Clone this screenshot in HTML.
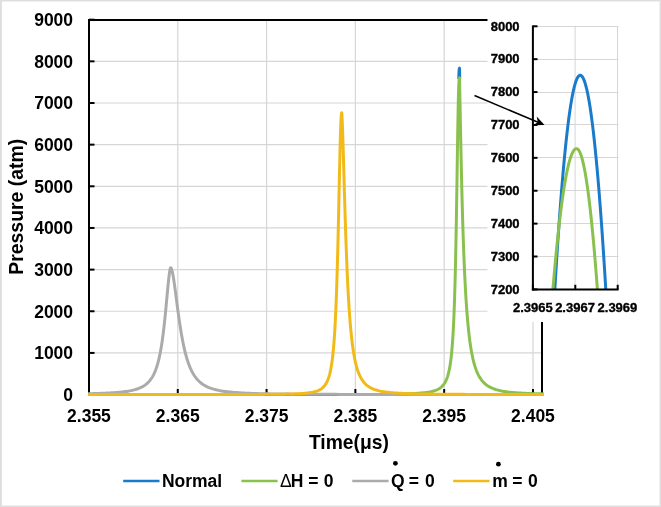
<!DOCTYPE html><html><head><meta charset="utf-8"><title>Pressure vs Time</title><style>html,body{margin:0;padding:0;background:#fff;overflow:hidden;}svg{display:block;will-change:transform;}text{font-family:"Liberation Sans",sans-serif;font-weight:bold;fill:#000;}.r{font-weight:normal;}</style></head><body>
<svg width="661" height="507" viewBox="0 0 661 507">
<rect x="0" y="0" width="661" height="507" fill="#fff"/>
<rect x="0.5" y="0.5" width="660" height="506" fill="none" stroke="#dedede" stroke-width="1"/>
<rect x="1.5" y="1.5" width="658" height="504" fill="none" stroke="#f0f0f0" stroke-width="1"/>
<rect x="1" y="1" width="1" height="505" fill="#e3e3e3"/>
<line x1="90" y1="352.92" x2="541" y2="352.92" stroke="#d6d6d6" stroke-width="1.2"/>
<line x1="90" y1="311.26" x2="541" y2="311.26" stroke="#d6d6d6" stroke-width="1.2"/>
<line x1="90" y1="269.61" x2="541" y2="269.61" stroke="#d6d6d6" stroke-width="1.2"/>
<line x1="90" y1="227.95" x2="541" y2="227.95" stroke="#d6d6d6" stroke-width="1.2"/>
<line x1="90" y1="186.30" x2="541" y2="186.30" stroke="#d6d6d6" stroke-width="1.2"/>
<line x1="90" y1="144.65" x2="541" y2="144.65" stroke="#d6d6d6" stroke-width="1.2"/>
<line x1="90" y1="102.99" x2="541" y2="102.99" stroke="#d6d6d6" stroke-width="1.2"/>
<line x1="90" y1="61.34" x2="541" y2="61.34" stroke="#d6d6d6" stroke-width="1.2"/>
<line x1="177.77" y1="21" x2="177.77" y2="394" stroke="#d6d6d6" stroke-width="1.2"/>
<line x1="266.57" y1="21" x2="266.57" y2="394" stroke="#d6d6d6" stroke-width="1.2"/>
<line x1="355.37" y1="21" x2="355.37" y2="394" stroke="#d6d6d6" stroke-width="1.2"/>
<line x1="444.17" y1="21" x2="444.17" y2="394" stroke="#d6d6d6" stroke-width="1.2"/>
<line x1="532.97" y1="21" x2="532.97" y2="394" stroke="#d6d6d6" stroke-width="1.2"/>
<rect x="89" y="20" width="453" height="374.6" fill="none" stroke="#000" stroke-width="2"/>
<line x1="89" y1="394.57" x2="94.5" y2="394.57" stroke="#000" stroke-width="2"/>
<line x1="89" y1="352.92" x2="94.5" y2="352.92" stroke="#000" stroke-width="2"/>
<line x1="89" y1="311.26" x2="94.5" y2="311.26" stroke="#000" stroke-width="2"/>
<line x1="89" y1="269.61" x2="94.5" y2="269.61" stroke="#000" stroke-width="2"/>
<line x1="89" y1="227.95" x2="94.5" y2="227.95" stroke="#000" stroke-width="2"/>
<line x1="89" y1="186.30" x2="94.5" y2="186.30" stroke="#000" stroke-width="2"/>
<line x1="89" y1="144.65" x2="94.5" y2="144.65" stroke="#000" stroke-width="2"/>
<line x1="89" y1="102.99" x2="94.5" y2="102.99" stroke="#000" stroke-width="2"/>
<line x1="89" y1="61.34" x2="94.5" y2="61.34" stroke="#000" stroke-width="2"/>
<line x1="89" y1="19.68" x2="94.5" y2="19.68" stroke="#000" stroke-width="2"/>
<line x1="88.97" y1="394.6" x2="88.97" y2="389" stroke="#000" stroke-width="2"/>
<line x1="177.77" y1="394.6" x2="177.77" y2="389" stroke="#000" stroke-width="2"/>
<line x1="266.57" y1="394.6" x2="266.57" y2="389" stroke="#000" stroke-width="2"/>
<line x1="355.37" y1="394.6" x2="355.37" y2="389" stroke="#000" stroke-width="2"/>
<line x1="444.17" y1="394.6" x2="444.17" y2="389" stroke="#000" stroke-width="2"/>
<line x1="532.97" y1="394.6" x2="532.97" y2="389" stroke="#000" stroke-width="2"/>
<defs><clipPath id="pc"><rect x="87.5" y="19" width="456.5" height="380"/></clipPath></defs>
<g clip-path="url(#pc)">
<defs><clipPath id="bc"><rect x="440" y="19" width="40" height="60"/></clipPath><clipPath id="gc"><rect x="400" y="19" width="144" height="380"/></clipPath></defs>
<path clip-path="url(#bc)" d="M88.00,394.56 L92.00,394.56 L96.00,394.56 L100.00,394.56 L104.00,394.56 L108.00,394.56 L112.00,394.56 L116.00,394.56 L120.00,394.56 L124.00,394.56 L128.00,394.55 L132.00,394.55 L136.00,394.55 L140.00,394.55 L144.00,394.55 L148.00,394.55 L152.00,394.55 L156.00,394.55 L160.00,394.55 L164.00,394.55 L168.00,394.55 L172.00,394.55 L176.00,394.55 L180.00,394.55 L184.00,394.55 L188.00,394.55 L192.00,394.55 L196.00,394.55 L200.00,394.54 L204.00,394.54 L208.00,394.54 L212.00,394.54 L216.00,394.54 L220.00,394.54 L224.00,394.54 L228.00,394.54 L232.00,394.54 L236.00,394.53 L240.00,394.53 L244.00,394.53 L248.00,394.53 L252.00,394.53 L256.00,394.53 L260.00,394.53 L264.00,394.52 L268.00,394.52 L272.00,394.52 L276.00,394.52 L280.00,394.51 L284.00,394.51 L288.00,394.51 L292.00,394.50 L296.00,394.50 L300.00,394.50 L304.00,394.49 L308.00,394.49 L312.00,394.48 L316.00,394.48 L320.00,394.47 L324.00,394.47 L328.00,394.46 L332.00,394.45 L336.00,394.44 L340.00,394.44 L344.00,394.43 L348.00,394.41 L352.00,394.40 L356.00,394.39 L360.00,394.37 L364.00,394.35 L368.00,394.33 L372.00,394.31 L376.00,394.28 L380.00,394.25 L381.50,394.23 L383.00,394.22 L384.50,394.21 L386.00,394.19 L387.50,394.17 L389.00,394.15 L390.50,394.13 L392.00,394.11 L393.50,394.09 L395.00,394.07 L396.50,394.04 L398.00,394.01 L399.50,393.98 L401.00,393.95 L402.50,393.91 L404.00,393.87 L405.50,393.83 L407.00,393.79 L408.50,393.74 L410.00,393.68 L411.50,393.62 L413.00,393.55 L414.50,393.48 L416.00,393.40 L417.50,393.31 L419.00,393.20 L420.50,393.09 L422.00,392.96 L423.50,392.81 L425.00,392.65 L426.50,392.45 L428.00,392.23 L429.50,391.98 L431.00,391.68 L431.50,391.56 L432.00,391.45 L432.50,391.32 L433.00,391.19 L433.50,391.05 L434.00,390.90 L434.50,390.74 L435.00,390.57 L435.50,390.40 L436.00,390.20 L436.50,390.00 L437.00,389.78 L437.50,389.55 L438.00,389.30 L438.50,389.03 L439.00,388.73 L439.50,388.42 L440.00,388.08 L440.50,387.71 L441.00,387.32 L441.50,386.88 L442.00,386.41 L442.50,385.90 L443.00,385.34 L443.50,384.72 L444.00,384.04 L444.50,383.29 L445.00,382.46 L445.50,381.54 L446.00,380.51 L446.50,379.36 L447.00,378.08 L447.50,376.62 L448.00,374.98 L448.20,374.26 L448.40,373.51 L448.60,372.71 L448.80,371.87 L449.00,370.98 L449.20,370.04 L449.40,369.05 L449.60,368.00 L449.80,366.88 L450.00,365.70 L450.20,364.45 L450.40,363.11 L450.60,361.70 L450.80,360.19 L451.00,358.58 L451.20,356.86 L451.40,355.02 L451.60,353.06 L451.80,350.96 L452.00,348.71 L452.20,346.30 L452.40,343.70 L452.60,340.92 L452.80,337.92 L453.00,334.69 L453.20,331.20 L453.40,327.44 L453.60,323.37 L453.80,318.98 L454.00,314.22 L454.20,309.08 L454.40,303.51 L454.60,297.47 L454.80,290.94 L455.00,283.86 L455.20,276.22 L455.40,267.96 L455.60,259.05 L455.80,249.48 L456.00,239.23 L456.20,228.28 L456.40,216.67 L456.60,204.43 L456.80,191.62 L457.00,178.37 L457.20,164.82 L457.40,151.18 L457.60,137.69 L457.80,124.63 L458.00,112.33 L458.20,101.10 L458.40,91.25 L458.60,83.04 L458.80,76.64 L459.00,72.12 L459.20,69.42 L459.40,68.31 L459.50,68.21 L459.60,72.27 L459.80,82.43 L460.00,93.47 L460.20,104.83 L460.40,116.23 L460.60,127.50 L460.80,138.50 L461.00,149.13 L461.20,159.33 L461.40,169.06 L461.60,178.30 L461.80,187.06 L462.00,195.35 L462.20,203.21 L462.40,210.66 L462.60,217.73 L462.80,224.45 L463.00,230.84 L463.20,236.94 L463.40,242.75 L463.60,248.29 L463.80,253.59 L464.00,258.64 L464.20,263.48 L464.40,268.10 L464.60,272.52 L464.80,276.74 L465.00,280.79 L465.20,284.66 L465.40,288.36 L465.60,291.91 L465.80,295.30 L466.00,298.56 L466.20,301.68 L466.40,304.67 L466.60,307.53 L466.80,310.28 L467.00,312.92 L467.20,315.45 L467.40,317.89 L467.60,320.22 L467.80,322.47 L468.00,324.62 L468.20,326.70 L468.40,328.69 L468.60,330.61 L468.80,332.45 L469.00,334.23 L469.20,335.94 L469.40,337.58 L469.60,339.17 L469.80,340.70 L470.00,342.17 L470.20,343.60 L470.40,344.97 L470.60,346.29 L470.80,347.56 L471.00,348.80 L471.20,349.99 L471.40,351.14 L471.60,352.25 L472.10,354.86 L472.60,357.27 L473.10,359.48 L473.60,361.53 L474.10,363.42 L474.60,365.16 L475.10,366.78 L475.60,368.28 L476.10,369.68 L476.60,370.98 L477.10,372.19 L477.60,373.31 L478.10,374.37 L478.60,375.35 L479.10,376.27 L479.60,377.13 L480.10,377.94 L480.60,378.70 L481.10,379.42 L481.60,380.09 L482.10,380.72 L482.60,381.31 L483.10,381.87 L483.60,382.40 L484.10,382.90 L484.60,383.38 L485.10,383.82 L485.60,384.25 L486.10,384.65 L486.60,385.03 L487.10,385.39 L487.60,385.73 L488.10,386.06 L488.60,386.37 L489.10,386.66 L489.60,386.94 L491.10,387.71 L492.60,388.37 L494.10,388.95 L495.60,389.46 L497.10,389.91 L498.60,390.31 L500.10,390.66 L501.60,390.98 L503.10,391.26 L504.60,391.51 L506.10,391.73 L507.60,391.94 L509.10,392.12 L510.60,392.29 L512.10,392.44 L513.60,392.58 L515.10,392.71 L516.60,392.83 L518.10,392.93 L519.60,393.03 L521.10,393.12 L522.60,393.20 L524.10,393.28 L525.60,393.35 L527.10,393.42 L528.60,393.48 L530.10,393.53 L531.60,393.59 L533.10,393.64 L534.60,393.68 L536.10,393.73 L537.60,393.77 L539.10,393.80 L540.60,393.84 L544.00,393.91" fill="none" stroke="#1A7BCB" stroke-width="3" stroke-linejoin="round" stroke-linecap="butt"/>
<path clip-path="url(#gc)" d="M88.00,394.56 L92.00,394.56 L96.00,394.56 L100.00,394.56 L104.00,394.56 L108.00,394.56 L112.00,394.56 L116.00,394.56 L120.00,394.56 L124.00,394.56 L128.00,394.55 L132.00,394.55 L136.00,394.55 L140.00,394.55 L144.00,394.55 L148.00,394.55 L152.00,394.55 L156.00,394.55 L160.00,394.55 L164.00,394.55 L168.00,394.55 L172.00,394.55 L176.00,394.55 L180.00,394.55 L184.00,394.55 L188.00,394.55 L192.00,394.55 L196.00,394.55 L200.00,394.54 L204.00,394.54 L208.00,394.54 L212.00,394.54 L216.00,394.54 L220.00,394.54 L224.00,394.54 L228.00,394.54 L232.00,394.54 L236.00,394.53 L240.00,394.53 L244.00,394.53 L248.00,394.53 L252.00,394.53 L256.00,394.53 L260.00,394.53 L264.00,394.52 L268.00,394.52 L272.00,394.52 L276.00,394.52 L280.00,394.51 L284.00,394.51 L288.00,394.51 L292.00,394.50 L296.00,394.50 L300.00,394.50 L304.00,394.49 L308.00,394.49 L312.00,394.48 L316.00,394.48 L320.00,394.47 L324.00,394.47 L328.00,394.46 L332.00,394.45 L336.00,394.44 L340.00,394.44 L344.00,394.43 L348.00,394.41 L352.00,394.40 L356.00,394.39 L360.00,394.37 L364.00,394.35 L368.00,394.33 L372.00,394.31 L376.00,394.28 L380.00,394.25 L381.50,394.23 L383.00,394.22 L384.50,394.21 L386.00,394.19 L387.50,394.17 L389.00,394.15 L390.50,394.13 L392.00,394.11 L393.50,394.09 L395.00,394.07 L396.50,394.04 L398.00,394.01 L399.50,393.98 L401.00,393.95 L402.50,393.91 L404.00,393.87 L405.50,393.83 L407.00,393.79 L408.50,393.74 L410.00,393.68 L411.50,393.62 L413.00,393.55 L414.50,393.48 L416.00,393.40 L417.50,393.31 L419.00,393.20 L420.50,393.09 L422.00,392.96 L423.50,392.81 L425.00,392.65 L426.50,392.45 L428.00,392.23 L429.50,391.98 L431.00,391.68 L431.50,391.56 L432.00,391.45 L432.50,391.32 L433.00,391.19 L433.50,391.05 L434.00,390.90 L434.50,390.74 L435.00,390.57 L435.50,390.40 L436.00,390.20 L436.50,390.00 L437.00,389.78 L437.50,389.55 L438.00,389.30 L438.50,389.03 L439.00,388.73 L439.50,388.42 L440.00,388.08 L440.50,387.71 L441.00,387.32 L441.50,386.88 L442.00,386.41 L442.50,385.90 L443.00,385.34 L443.50,384.72 L444.00,384.04 L444.50,383.29 L445.00,382.46 L445.50,381.54 L446.00,380.51 L446.50,379.36 L447.00,378.08 L447.50,376.62 L448.00,374.98 L448.20,374.26 L448.40,373.51 L448.60,372.71 L448.80,371.87 L449.00,370.98 L449.20,370.04 L449.40,369.05 L449.60,368.00 L449.80,366.88 L450.00,365.70 L450.20,364.45 L450.40,363.11 L450.60,361.70 L450.80,360.19 L451.00,358.58 L451.20,356.86 L451.40,355.02 L451.60,353.06 L451.80,350.96 L452.00,348.71 L452.20,346.30 L452.40,343.70 L452.60,340.92 L452.80,337.92 L453.00,334.69 L453.20,331.20 L453.40,327.44 L453.60,323.37 L453.80,318.98 L454.00,314.22 L454.20,309.08 L454.40,303.51 L454.60,297.47 L454.80,290.94 L455.00,283.87 L455.20,276.22 L455.40,267.97 L455.60,259.08 L455.80,249.53 L456.00,239.31 L456.20,228.42 L456.40,216.89 L456.60,204.78 L456.80,192.18 L457.00,179.21 L457.20,166.04 L457.40,152.89 L457.60,140.02 L457.80,127.73 L458.00,116.30 L458.20,106.05 L458.40,97.23 L458.60,90.02 L458.80,84.55 L459.00,80.81 L459.20,78.67 L459.40,77.85 L459.50,77.79 L459.60,81.81 L459.80,91.68 L460.00,102.16 L460.20,112.74 L460.40,123.21 L460.60,133.47 L460.80,143.45 L461.00,153.11 L461.20,162.43 L461.40,171.39 L461.60,180.01 L461.80,188.27 L462.00,196.19 L462.20,203.77 L462.40,211.02 L462.60,217.95 L462.80,224.59 L463.00,230.92 L463.20,236.98 L463.40,242.77 L463.60,248.30 L463.80,253.59 L464.00,258.65 L464.20,263.48 L464.40,268.10 L464.60,272.52 L464.80,276.74 L465.00,280.79 L465.20,284.66 L465.40,288.36 L465.60,291.91 L465.80,295.30 L466.00,298.56 L466.20,301.68 L466.40,304.67 L466.60,307.53 L466.80,310.28 L467.00,312.92 L467.20,315.45 L467.40,317.89 L467.60,320.22 L467.80,322.47 L468.00,324.62 L468.20,326.70 L468.40,328.69 L468.60,330.61 L468.80,332.45 L469.00,334.23 L469.20,335.94 L469.40,337.58 L469.60,339.17 L469.80,340.70 L470.00,342.17 L470.20,343.60 L470.40,344.97 L470.60,346.29 L470.80,347.56 L471.00,348.80 L471.20,349.99 L471.40,351.14 L471.60,352.25 L472.10,354.86 L472.60,357.27 L473.10,359.48 L473.60,361.53 L474.10,363.42 L474.60,365.16 L475.10,366.78 L475.60,368.28 L476.10,369.68 L476.60,370.98 L477.10,372.19 L477.60,373.31 L478.10,374.37 L478.60,375.35 L479.10,376.27 L479.60,377.13 L480.10,377.94 L480.60,378.70 L481.10,379.42 L481.60,380.09 L482.10,380.72 L482.60,381.31 L483.10,381.87 L483.60,382.40 L484.10,382.90 L484.60,383.38 L485.10,383.82 L485.60,384.25 L486.10,384.65 L486.60,385.03 L487.10,385.39 L487.60,385.73 L488.10,386.06 L488.60,386.37 L489.10,386.66 L489.60,386.94 L491.10,387.71 L492.60,388.37 L494.10,388.95 L495.60,389.46 L497.10,389.91 L498.60,390.31 L500.10,390.66 L501.60,390.98 L503.10,391.26 L504.60,391.51 L506.10,391.73 L507.60,391.94 L509.10,392.12 L510.60,392.29 L512.10,392.44 L513.60,392.58 L515.10,392.71 L516.60,392.83 L518.10,392.93 L519.60,393.03 L521.10,393.12 L522.60,393.20 L524.10,393.28 L525.60,393.35 L527.10,393.42 L528.60,393.48 L530.10,393.53 L531.60,393.59 L533.10,393.64 L534.60,393.68 L536.10,393.73 L537.60,393.77 L539.10,393.80 L540.60,393.84 L544.00,393.91" fill="none" stroke="#8AC14E" stroke-width="3" stroke-linejoin="round" stroke-linecap="butt"/>
<path d="M88.00,393.73 L92.00,393.64 L93.50,393.60 L95.00,393.56 L96.50,393.51 L98.00,393.46 L99.50,393.41 L101.00,393.36 L102.50,393.30 L104.00,393.24 L105.50,393.17 L107.00,393.10 L108.50,393.02 L110.00,392.94 L111.50,392.85 L113.00,392.76 L114.50,392.65 L116.00,392.54 L117.50,392.42 L119.00,392.28 L120.50,392.13 L122.00,391.97 L123.50,391.80 L125.00,391.60 L126.50,391.39 L128.00,391.15 L129.50,390.89 L131.00,390.60 L132.50,390.27 L134.00,389.90 L135.50,389.48 L137.00,389.01 L138.50,388.48 L140.00,387.87 L141.50,387.17 L142.00,386.92 L142.50,386.65 L143.00,386.36 L143.50,386.07 L144.00,385.76 L144.50,385.43 L145.00,385.08 L145.50,384.72 L146.00,384.33 L146.50,383.92 L147.00,383.50 L147.50,383.04 L148.00,382.56 L148.50,382.05 L149.00,381.51 L149.50,380.94 L150.00,380.34 L150.50,379.69 L151.00,379.00 L151.50,378.27 L152.00,377.50 L152.50,376.67 L153.00,375.78 L153.50,374.84 L154.00,373.82 L154.50,372.74 L155.00,371.58 L155.50,370.34 L156.00,369.00 L156.50,367.57 L157.00,366.03 L157.50,364.37 L158.00,362.58 L158.50,360.66 L159.00,358.59 L159.20,357.71 L159.40,356.81 L159.60,355.89 L159.80,354.93 L160.00,353.94 L160.20,352.93 L160.40,351.88 L160.60,350.81 L160.80,349.69 L161.00,348.55 L161.20,347.37 L161.40,346.16 L161.60,344.91 L161.80,343.62 L162.00,342.29 L162.20,340.93 L162.40,339.53 L162.60,338.08 L162.80,336.60 L163.00,335.07 L163.20,333.50 L163.40,331.89 L163.60,330.24 L163.80,328.55 L164.00,326.81 L164.20,325.03 L164.40,323.21 L164.60,321.35 L164.80,319.45 L165.00,317.51 L165.20,315.53 L165.40,313.51 L165.60,311.47 L165.80,309.39 L166.00,307.29 L166.20,305.16 L166.40,303.01 L166.60,300.85 L166.80,298.68 L167.00,296.50 L167.20,294.33 L167.40,292.17 L167.60,290.02 L167.80,287.91 L168.00,285.83 L168.20,283.79 L168.40,281.81 L168.60,279.90 L168.80,278.07 L169.00,276.34 L169.20,274.71 L169.40,273.21 L169.60,271.84 L169.80,270.63 L170.00,269.59 L170.20,268.75 L170.40,268.12 L170.60,267.75 L170.70,267.69 L170.80,267.72 L171.00,267.91 L171.20,268.22 L171.40,268.65 L171.60,269.18 L171.80,269.81 L172.00,270.53 L172.20,271.33 L172.40,272.20 L172.60,273.15 L172.80,274.17 L173.00,275.25 L173.20,276.39 L173.40,277.57 L173.60,278.81 L173.80,280.09 L174.00,281.41 L174.20,282.77 L174.40,284.16 L174.60,285.58 L174.80,287.03 L175.00,288.49 L175.20,289.98 L175.40,291.48 L175.60,292.99 L175.80,294.51 L176.00,296.04 L176.20,297.57 L176.40,299.11 L176.60,300.65 L176.80,302.18 L177.00,303.71 L177.20,305.23 L177.40,306.75 L177.60,308.26 L177.80,309.76 L178.00,311.24 L178.20,312.71 L178.40,314.17 L178.60,315.62 L178.80,317.04 L179.00,318.45 L179.20,319.85 L179.40,321.22 L179.60,322.58 L179.80,323.92 L180.00,325.23 L180.20,326.53 L180.40,327.81 L180.60,329.07 L180.80,330.30 L181.00,331.52 L181.20,332.71 L181.40,333.89 L181.60,335.04 L181.80,336.18 L182.00,337.29 L182.20,338.38 L182.40,339.45 L182.60,340.50 L182.80,341.53 L183.30,344.02 L183.80,346.38 L184.30,348.63 L184.80,350.76 L185.30,352.78 L185.80,354.70 L186.30,356.52 L186.80,358.24 L187.30,359.88 L187.80,361.42 L188.30,362.89 L188.80,364.28 L189.30,365.59 L189.80,366.84 L190.30,368.02 L190.80,369.14 L191.30,370.20 L191.80,371.21 L192.30,372.16 L192.80,373.07 L193.30,373.93 L193.80,374.75 L194.30,375.52 L194.80,376.26 L195.30,376.96 L195.80,377.63 L196.30,378.27 L196.80,378.87 L197.30,379.45 L197.80,380.00 L198.30,380.52 L198.80,381.02 L199.30,381.50 L199.80,381.95 L200.30,382.38 L200.80,382.80 L202.30,383.94 L203.80,384.93 L205.30,385.81 L206.80,386.58 L208.30,387.27 L209.80,387.87 L211.30,388.42 L212.80,388.90 L214.30,389.33 L215.80,389.73 L217.30,390.08 L218.80,390.40 L220.30,390.68 L221.80,390.95 L223.30,391.18 L224.80,391.40 L226.30,391.60 L227.80,391.78 L229.30,391.95 L230.80,392.10 L232.30,392.25 L233.80,392.38 L235.30,392.50 L236.80,392.61 L238.30,392.71 L239.80,392.81 L241.30,392.90 L242.80,392.98 L244.30,393.06 L245.80,393.13 L247.30,393.20 L248.80,393.27 L250.30,393.33 L251.80,393.38 L255.80,393.52 L259.80,393.63 L263.80,393.73 L267.80,393.81 L271.80,393.88 L275.80,393.95 L279.80,394.00 L283.80,394.05 L287.80,394.09 L291.80,394.13 L295.80,394.17 L299.80,394.20 L303.80,394.23 L307.80,394.25 L311.80,394.27 L315.80,394.29 L319.80,394.31 L323.80,394.33 L327.80,394.34 L331.80,394.36 L335.80,394.37 L339.80,394.38 L343.80,394.39 L347.80,394.40 L351.80,394.41 L355.80,394.42 L359.80,394.43 L363.80,394.44 L367.80,394.44 L371.80,394.45 L375.80,394.46 L379.80,394.46 L383.80,394.47 L387.80,394.47 L391.80,394.48 L395.80,394.48 L399.80,394.48 L403.80,394.49 L407.80,394.49 L411.80,394.49 L415.80,394.50 L419.80,394.50 L423.80,394.50 L427.80,394.51 L431.80,394.51 L435.80,394.51 L439.80,394.51 L443.80,394.51 L447.80,394.52 L451.80,394.52 L455.80,394.52 L459.80,394.52 L463.80,394.52 L467.80,394.53 L471.80,394.53 L475.80,394.53 L479.80,394.53 L483.80,394.53 L487.80,394.53 L491.80,394.53 L495.80,394.53 L499.80,394.54 L503.80,394.54 L507.80,394.54 L511.80,394.54 L515.80,394.54 L519.80,394.54 L523.80,394.54 L527.80,394.54 L531.80,394.54 L535.80,394.54 L539.80,394.54 L543.80,394.55 L544.00,394.55" fill="none" stroke="#ABABAB" stroke-width="3" stroke-linejoin="round" stroke-linecap="butt"/>
<path d="M88.00,394.56 L92.00,394.56 L96.00,394.56 L100.00,394.56 L104.00,394.56 L108.00,394.56 L112.00,394.56 L116.00,394.56 L120.00,394.56 L124.00,394.56 L128.00,394.56 L132.00,394.56 L136.00,394.56 L140.00,394.55 L144.00,394.55 L148.00,394.55 L152.00,394.55 L156.00,394.55 L160.00,394.55 L164.00,394.55 L168.00,394.55 L172.00,394.55 L176.00,394.54 L180.00,394.54 L184.00,394.54 L188.00,394.54 L192.00,394.54 L196.00,394.53 L200.00,394.53 L204.00,394.53 L208.00,394.52 L212.00,394.52 L216.00,394.52 L220.00,394.51 L224.00,394.51 L228.00,394.50 L232.00,394.49 L236.00,394.49 L240.00,394.48 L244.00,394.47 L248.00,394.46 L252.00,394.44 L256.00,394.43 L260.00,394.41 L264.00,394.38 L265.50,394.37 L267.00,394.36 L268.50,394.35 L270.00,394.34 L271.50,394.33 L273.00,394.31 L274.50,394.30 L276.00,394.28 L277.50,394.26 L279.00,394.24 L280.50,394.22 L282.00,394.20 L283.50,394.18 L285.00,394.15 L286.50,394.12 L288.00,394.08 L289.50,394.05 L291.00,394.01 L292.50,393.96 L294.00,393.91 L295.50,393.85 L297.00,393.79 L298.50,393.72 L300.00,393.64 L301.50,393.54 L303.00,393.44 L304.50,393.32 L306.00,393.18 L307.50,393.01 L309.00,392.82 L310.50,392.60 L312.00,392.34 L312.50,392.24 L313.00,392.13 L313.50,392.02 L314.00,391.90 L314.50,391.78 L315.00,391.64 L315.50,391.50 L316.00,391.35 L316.50,391.18 L317.00,391.01 L317.50,390.82 L318.00,390.62 L318.50,390.40 L319.00,390.16 L319.50,389.91 L320.00,389.64 L320.50,389.34 L321.00,389.02 L321.50,388.67 L322.00,388.29 L322.50,387.88 L323.00,387.43 L323.50,386.94 L324.00,386.40 L324.50,385.81 L325.00,385.16 L325.50,384.44 L326.00,383.64 L326.50,382.76 L327.00,381.77 L327.50,380.68 L328.00,379.45 L328.50,378.08 L329.00,376.53 L329.50,374.79 L330.00,372.81 L330.20,371.95 L330.40,371.04 L330.60,370.08 L330.80,369.07 L331.00,368.00 L331.20,366.88 L331.40,365.69 L331.60,364.43 L331.80,363.11 L332.00,361.70 L332.20,360.22 L332.40,358.64 L332.60,356.98 L332.80,355.21 L333.00,353.33 L333.20,351.34 L333.40,349.23 L333.60,346.98 L333.80,344.60 L334.00,342.06 L334.20,339.36 L334.40,336.49 L334.60,333.43 L334.80,330.18 L335.00,326.72 L335.20,323.04 L335.40,319.12 L335.60,314.94 L335.80,310.50 L336.00,305.78 L336.20,300.76 L336.40,295.43 L336.60,289.78 L336.80,283.79 L337.00,277.45 L337.20,270.76 L337.40,263.71 L337.60,256.31 L337.80,248.55 L338.00,240.46 L338.20,232.05 L338.40,223.36 L338.60,214.42 L338.80,205.29 L339.00,196.04 L339.20,186.74 L339.40,177.49 L339.60,168.40 L339.80,159.57 L340.00,151.15 L340.20,143.27 L340.40,136.04 L340.60,129.62 L340.80,124.11 L341.00,119.62 L341.20,116.23 L341.40,113.99 L341.60,112.91 L341.70,112.78 L341.80,113.41 L342.00,116.17 L342.20,120.17 L342.40,125.03 L342.60,130.55 L342.80,136.57 L343.00,142.97 L343.20,149.65 L343.40,156.51 L343.60,163.50 L343.80,170.55 L344.00,177.61 L344.20,184.64 L344.40,191.60 L344.60,198.46 L344.80,205.19 L345.00,211.78 L345.20,218.22 L345.40,224.49 L345.60,230.57 L345.80,236.47 L346.00,242.19 L346.20,247.71 L346.40,253.04 L346.60,258.19 L346.80,263.14 L347.00,267.91 L347.20,272.50 L347.40,276.91 L347.60,281.15 L347.80,285.22 L348.00,289.12 L348.20,292.87 L348.40,296.47 L348.60,299.92 L348.80,303.23 L349.00,306.41 L349.20,309.46 L349.40,312.38 L349.60,315.18 L349.80,317.87 L350.00,320.44 L350.20,322.91 L350.40,325.29 L350.60,327.56 L350.80,329.74 L351.00,331.84 L351.20,333.85 L351.40,335.78 L351.60,337.64 L351.80,339.42 L352.00,341.13 L352.20,342.77 L352.40,344.35 L352.60,345.87 L352.80,347.33 L353.00,348.74 L353.20,350.09 L353.40,351.39 L353.60,352.64 L353.80,353.85 L354.30,356.67 L354.80,359.24 L355.30,361.59 L355.80,363.74 L356.30,365.71 L356.80,367.51 L357.30,369.17 L357.80,370.69 L358.30,372.10 L358.80,373.40 L359.30,374.60 L359.80,375.71 L360.30,376.73 L360.80,377.69 L361.30,378.58 L361.80,379.40 L362.30,380.17 L362.80,380.89 L363.30,381.56 L363.80,382.18 L364.30,382.77 L364.80,383.32 L365.30,383.83 L365.80,384.32 L366.30,384.77 L366.80,385.20 L367.30,385.60 L367.80,385.98 L368.30,386.34 L368.80,386.67 L369.30,386.99 L369.80,387.29 L370.30,387.58 L370.80,387.85 L371.30,388.10 L371.80,388.35 L373.30,389.01 L374.80,389.57 L376.30,390.06 L377.80,390.49 L379.30,390.86 L380.80,391.19 L382.30,391.48 L383.80,391.73 L385.30,391.96 L386.80,392.16 L388.30,392.35 L389.80,392.51 L391.30,392.66 L392.80,392.79 L394.30,392.91 L395.80,393.02 L397.30,393.12 L398.80,393.21 L400.30,393.29 L401.80,393.37 L403.30,393.44 L404.80,393.51 L406.30,393.56 L407.80,393.62 L409.30,393.67 L410.80,393.72 L412.30,393.76 L413.80,393.80 L415.30,393.84 L416.80,393.88 L418.30,393.91 L419.80,393.94 L421.30,393.97 L422.80,394.00 L426.80,394.06 L430.80,394.12 L434.80,394.16 L438.80,394.20 L442.80,394.24 L446.80,394.27 L450.80,394.30 L454.80,394.32 L458.80,394.34 L462.80,394.36 L466.80,394.38 L470.80,394.39 L474.80,394.40 L478.80,394.42 L482.80,394.43 L486.80,394.44 L490.80,394.44 L494.80,394.45 L498.80,394.46 L502.80,394.47 L506.80,394.47 L510.80,394.48 L514.80,394.48 L518.80,394.49 L522.80,394.49 L526.80,394.50 L530.80,394.50 L534.80,394.50 L538.80,394.51 L542.80,394.51 L544.00,394.51" fill="none" stroke="#F2BA18" stroke-width="3" stroke-linejoin="round" stroke-linecap="butt"/>
</g>
<text x="73.1" y="400.87" font-size="17.5" text-anchor="end">0</text>
<text x="73.1" y="359.22" font-size="17.5" text-anchor="end">1000</text>
<text x="73.1" y="317.56" font-size="17.5" text-anchor="end">2000</text>
<text x="73.1" y="275.91" font-size="17.5" text-anchor="end">3000</text>
<text x="73.1" y="234.25" font-size="17.5" text-anchor="end">4000</text>
<text x="73.1" y="192.60" font-size="17.5" text-anchor="end">5000</text>
<text x="73.1" y="150.95" font-size="17.5" text-anchor="end">6000</text>
<text x="73.1" y="109.29" font-size="17.5" text-anchor="end">7000</text>
<text x="73.1" y="67.64" font-size="17.5" text-anchor="end">8000</text>
<text x="73.1" y="25.98" font-size="17.5" text-anchor="end">9000</text>
<text x="88.97" y="421.6" font-size="17.5" text-anchor="middle">2.355</text>
<text x="177.77" y="421.6" font-size="17.5" text-anchor="middle">2.365</text>
<text x="266.57" y="421.6" font-size="17.5" text-anchor="middle">2.375</text>
<text x="355.37" y="421.6" font-size="17.5" text-anchor="middle">2.385</text>
<text x="444.17" y="421.6" font-size="17.5" text-anchor="middle">2.395</text>
<text x="532.97" y="421.6" font-size="17.5" text-anchor="middle">2.405</text>
<text x="348.9" y="448.9" font-size="19.3" text-anchor="middle">Time(μs)</text>
<text transform="translate(23.3,206.75) rotate(-90)" x="0" y="0" font-size="19.45" text-anchor="middle">Pressure (atm)</text>
<line x1="123.2" y1="481" x2="159.5" y2="481" stroke="#1A7BCB" stroke-width="2.6"/>
<line x1="241.4" y1="481" x2="277.6" y2="481" stroke="#8AC14E" stroke-width="2.6"/>
<line x1="352.3" y1="481" x2="388.6" y2="481" stroke="#ABABAB" stroke-width="2.6"/>
<line x1="453.2" y1="481" x2="489.5" y2="481" stroke="#F2BA18" stroke-width="2.6"/>
<text x="161.93" y="486.7" font-size="17.5">Normal</text>
<text class="r" x="279.88" y="486.7" font-size="17.5">Δ</text>
<text x="290.83" y="486.7" font-size="17.5">H</text>
<text x="308.17" y="486.7" font-size="17.5">=</text>
<text x="323.71" y="486.7" font-size="17.5">0</text>
<text x="391.08" y="486.7" font-size="17.5">Q</text>
<text x="408.67" y="486.7" font-size="17.5">=</text>
<text x="425.11" y="486.7" font-size="17.5">0</text>
<text x="492.25" y="486.7" font-size="17.5">m</text>
<text x="512.27" y="486.7" font-size="17.5">=</text>
<text x="528.11" y="486.7" font-size="17.5">0</text>
<circle cx="395.4" cy="463.3" r="2.4" fill="#000"/>
<circle cx="498.4" cy="464.2" r="2.4" fill="#000"/>
<rect x="487.5" y="6" width="170" height="316" fill="#fff"/>
<line x1="534" y1="256.5" x2="618.5" y2="256.5" stroke="#d6d6d6" stroke-width="1"/>
<line x1="534" y1="223.5" x2="618.5" y2="223.5" stroke="#d6d6d6" stroke-width="1"/>
<line x1="534" y1="190.5" x2="618.5" y2="190.5" stroke="#d6d6d6" stroke-width="1"/>
<line x1="534" y1="157.5" x2="618.5" y2="157.5" stroke="#d6d6d6" stroke-width="1"/>
<line x1="534" y1="124.5" x2="618.5" y2="124.5" stroke="#d6d6d6" stroke-width="1"/>
<line x1="534" y1="92.5" x2="618.5" y2="92.5" stroke="#d6d6d6" stroke-width="1"/>
<line x1="534" y1="59.5" x2="618.5" y2="59.5" stroke="#d6d6d6" stroke-width="1"/>
<line x1="534" y1="26.5" x2="618.5" y2="26.5" stroke="#d6d6d6" stroke-width="1"/>
<line x1="575.10" y1="26" x2="575.10" y2="289" stroke="#d6d6d6" stroke-width="1"/>
<line x1="617.50" y1="26" x2="617.50" y2="289" stroke="#d6d6d6" stroke-width="1"/>
<defs><clipPath id="ic"><rect x="533" y="10" width="120" height="279.4"/></clipPath></defs>
<g clip-path="url(#ic)">
<path d="M554.71,291.04 L555.23,282.47 L555.74,274.07 L556.25,265.84 L556.76,257.78 L557.27,249.90 L557.78,242.20 L558.30,234.67 L558.81,227.31 L559.32,220.12 L559.83,213.11 L560.34,206.28 L560.85,199.61 L561.37,193.12 L561.88,186.81 L562.39,180.67 L562.90,174.70 L563.41,168.91 L563.92,163.29 L564.44,157.84 L564.95,152.57 L565.46,147.47 L565.97,142.55 L566.48,137.80 L566.99,133.22 L567.51,128.82 L568.02,124.59 L568.53,120.54 L569.04,116.66 L569.55,112.95 L570.06,109.42 L570.57,106.06 L571.09,102.88 L571.60,99.87 L572.11,97.03 L572.62,94.37 L573.13,91.88 L573.64,89.56 L574.16,87.42 L574.67,85.45 L575.18,83.66 L575.69,82.04 L576.20,80.59 L576.71,79.32 L577.23,78.22 L577.74,77.30 L578.25,76.55 L578.76,75.97 L579.27,75.57 L579.78,75.34 L580.30,75.29 L580.81,75.41 L581.32,75.70 L581.83,76.16 L582.34,76.79 L582.85,77.59 L583.37,78.57 L583.88,79.71 L584.39,81.03 L584.90,82.52 L585.41,84.18 L585.92,86.01 L586.44,88.01 L586.95,90.18 L587.46,92.53 L587.97,95.04 L588.48,97.73 L588.99,100.59 L589.50,103.62 L590.02,106.82 L590.53,110.19 L591.04,113.74 L591.55,117.45 L592.06,121.34 L592.57,125.40 L593.09,129.63 L593.60,134.03 L594.11,138.60 L594.62,143.34 L595.13,148.26 L595.64,153.35 L596.16,158.60 L596.67,164.03 L597.18,169.63 L597.69,175.40 L598.20,181.35 L598.71,187.46 L599.23,193.75 L599.74,200.20 L600.25,206.83 L600.76,213.63 L601.27,220.60 L601.78,227.74 L602.30,235.05 L602.81,242.54 L603.32,250.20 L603.83,258.02 L604.34,266.02 L604.85,274.19 L605.37,282.53 L605.88,291.04" fill="none" stroke="#1A7BCB" stroke-width="3" stroke-linejoin="round"/>
<path d="M552.76,291.04 L553.20,285.73 L553.65,280.51 L554.10,275.39 L554.55,270.38 L554.99,265.46 L555.44,260.65 L555.89,255.94 L556.34,251.33 L556.78,246.82 L557.23,242.41 L557.68,238.10 L558.13,233.90 L558.57,229.79 L559.02,225.79 L559.47,221.89 L559.92,218.09 L560.37,214.39 L560.81,210.79 L561.26,207.29 L561.71,203.90 L562.16,200.60 L562.60,197.41 L563.05,194.32 L563.50,191.33 L563.95,188.44 L564.39,185.65 L564.84,182.96 L565.29,180.38 L565.74,177.89 L566.18,175.51 L566.63,173.23 L567.08,171.04 L567.53,168.97 L567.98,166.99 L568.42,165.11 L568.87,163.33 L569.32,161.66 L569.77,160.09 L570.21,158.61 L570.66,157.24 L571.11,155.97 L571.56,154.80 L572.00,153.74 L572.45,152.77 L572.90,151.91 L573.35,151.14 L573.79,150.48 L574.24,149.92 L574.69,149.46 L575.14,149.10 L575.59,148.84 L576.03,148.69 L576.48,148.63 L576.93,148.69 L577.38,148.88 L577.82,149.20 L578.27,149.64 L578.72,150.22 L579.17,150.92 L579.61,151.76 L580.06,152.72 L580.51,153.81 L580.96,155.03 L581.40,156.38 L581.85,157.86 L582.30,159.47 L582.75,161.21 L583.20,163.08 L583.64,165.08 L584.09,167.20 L584.54,169.46 L584.99,171.84 L585.43,174.35 L585.88,177.00 L586.33,179.77 L586.78,182.67 L587.22,185.70 L587.67,188.86 L588.12,192.15 L588.57,195.57 L589.01,199.11 L589.46,202.79 L589.91,206.59 L590.36,210.53 L590.81,214.59 L591.25,218.78 L591.70,223.11 L592.15,227.56 L592.60,232.14 L593.04,236.85 L593.49,241.68 L593.94,246.65 L594.39,251.75 L594.83,256.98 L595.28,262.33 L595.73,267.81 L596.18,273.43 L596.62,279.17 L597.07,285.04 L597.52,291.04" fill="none" stroke="#8AC14E" stroke-width="3" stroke-linejoin="round"/>
</g>
<line x1="532.9" y1="25.5" x2="532.9" y2="290.4" stroke="#000" stroke-width="2"/>
<line x1="531.9" y1="289.4" x2="618.6" y2="289.4" stroke="#000" stroke-width="2"/>
<line x1="532.9" y1="289.40" x2="537.5" y2="289.40" stroke="#000" stroke-width="2"/>
<line x1="532.9" y1="256.51" x2="537.5" y2="256.51" stroke="#000" stroke-width="2"/>
<line x1="532.9" y1="223.62" x2="537.5" y2="223.62" stroke="#000" stroke-width="2"/>
<line x1="532.9" y1="190.73" x2="537.5" y2="190.73" stroke="#000" stroke-width="2"/>
<line x1="532.9" y1="157.84" x2="537.5" y2="157.84" stroke="#000" stroke-width="2"/>
<line x1="532.9" y1="124.95" x2="537.5" y2="124.95" stroke="#000" stroke-width="2"/>
<line x1="532.9" y1="92.06" x2="537.5" y2="92.06" stroke="#000" stroke-width="2"/>
<line x1="532.9" y1="59.17" x2="537.5" y2="59.17" stroke="#000" stroke-width="2"/>
<line x1="532.9" y1="26.28" x2="537.5" y2="26.28" stroke="#000" stroke-width="2"/>
<line x1="532.90" y1="289.4" x2="532.90" y2="284.8" stroke="#000" stroke-width="2"/>
<line x1="575.30" y1="289.4" x2="575.30" y2="284.8" stroke="#000" stroke-width="2"/>
<line x1="617.70" y1="289.4" x2="617.70" y2="284.8" stroke="#000" stroke-width="2"/>
<text x="519.6" y="293.70" font-size="13" text-anchor="end" stroke="#000" stroke-width="0.35">7200</text>
<text x="519.6" y="260.81" font-size="13" text-anchor="end" stroke="#000" stroke-width="0.35">7300</text>
<text x="519.6" y="227.92" font-size="13" text-anchor="end" stroke="#000" stroke-width="0.35">7400</text>
<text x="519.6" y="195.03" font-size="13" text-anchor="end" stroke="#000" stroke-width="0.35">7500</text>
<text x="519.6" y="162.14" font-size="13" text-anchor="end" stroke="#000" stroke-width="0.35">7600</text>
<text x="519.6" y="129.25" font-size="13" text-anchor="end" stroke="#000" stroke-width="0.35">7700</text>
<text x="519.6" y="96.36" font-size="13" text-anchor="end" stroke="#000" stroke-width="0.35">7800</text>
<text x="519.6" y="63.47" font-size="13" text-anchor="end" stroke="#000" stroke-width="0.35">7900</text>
<text x="519.6" y="30.58" font-size="13" text-anchor="end" stroke="#000" stroke-width="0.35">8000</text>
<text x="512.95" y="312.4" font-size="13" stroke="#000" stroke-width="0.35">2.3965</text>
<text x="555.15" y="312.4" font-size="13" stroke="#000" stroke-width="0.35">2.3967</text>
<text x="597.55" y="312.4" font-size="13" stroke="#000" stroke-width="0.35">2.3969</text>
<line x1="474.5" y1="95.5" x2="538.05" y2="122.28" stroke="#000" stroke-width="1.5"/>
<polygon points="544.50,125.00 536.69,116.50 537.87,122.20 532.96,125.35" fill="#000"/>
</svg></body></html>
